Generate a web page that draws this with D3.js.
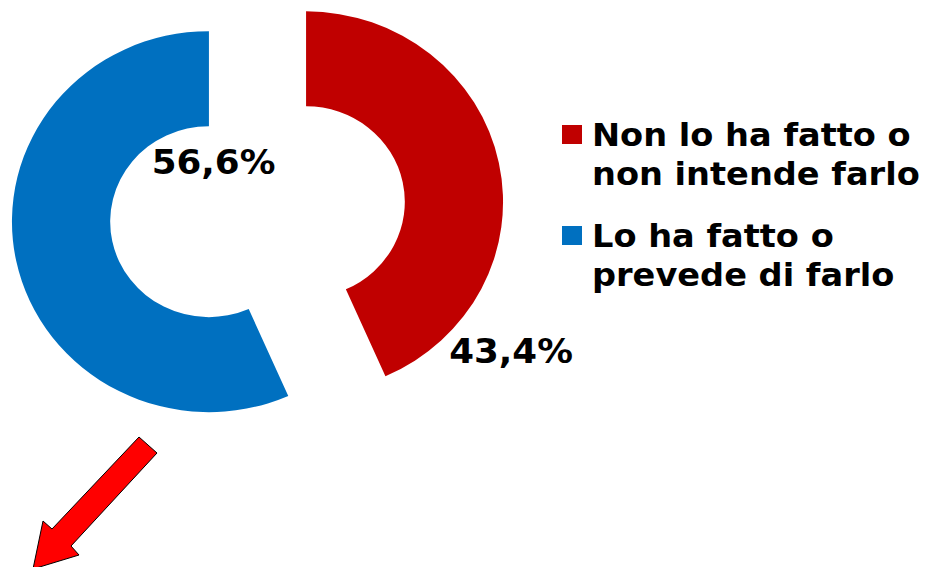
<!DOCTYPE html>
<html>
<head>
<meta charset="utf-8">
<script src="https://cdn.jsdelivr.net/npm/d3@7"></script>
<style>
  html, body { margin: 0; padding: 0; background: #fff; }
  svg { display: block; }
  text { font-family: "DejaVu Sans", Verdana, sans-serif; font-weight: bold; fill: #000; }
</style>
</head>
<body>
<svg id="chart" width="928" height="567"></svg>
<script>
const categories = ["Non lo ha fatto o non intende farlo", "Lo ha fatto o prevede di farlo"];
const legendLines = [["Non lo ha fatto o", "non intende farlo"], ["Lo ha fatto o", "prevede di farlo"]];
const values = [43.4, 56.6];
const valueLabels = ["43,4%", "56,6%"];
const colors = ["#C00000", "#0070C0"];

const svg = d3.select("#chart");
const W = 928, H = 567;
svg.append("rect").attr("width", W).attr("height", H).attr("fill", "#fff");

// the original picture is slightly stretched horizontally
const cx = 257.5, cy = 211.75, sx = 1.034;
const outerR = 190.5, innerR = 95.5, explode = 48;

const pie = d3.pie().sort(null).value(d => d).startAngle(0).endAngle(2 * Math.PI);
const arcs = pie(values);
const arc = d3.arc().innerRadius(innerR).outerRadius(outerR);

const g = svg.append("g").attr("transform", `translate(${cx},${cy}) scale(${sx},1)`);
g.selectAll("path.slice").data(arcs).enter().append("path")
  .attr("class", "slice")
  .attr("d", arc)
  .attr("fill", (d, i) => colors[i])
  .attr("transform", d => {
    const a = (d.startAngle + d.endAngle) / 2;
    return `translate(${explode * Math.sin(a)},${-explode * Math.cos(a)})`;
  });

// value labels
const labelOffsets = [
  { dx: 253.5, dy: 151 },   // red label: outside lower-right of the red slice
  { dx: -44, dy: -38 }      // blue label: inside the hole, near top
];
arcs.forEach((d, i) => {
  svg.append("text")
    .attr("transform", `translate(${cx + labelOffsets[i].dx},${cy + labelOffsets[i].dy}) scale(${sx},1)`)
    .attr("text-anchor", "middle")
    .attr("font-size", 34.5)
    .text(valueLabels[i]);
});

// legend
const lg = svg.append("g").attr("transform", "translate(562,125)");
categories.forEach((c, i) => {
  const item = lg.append("g").attr("transform", `translate(0,${i * 101})`);
  item.append("rect").attr("width", 20).attr("height", 19).attr("fill", colors[i]);
  item.selectAll("text").data(legendLines[i]).enter().append("text")
    .attr("transform", (d, j) => `translate(30,${21 + j * 39}) scale(${sx},1)`)
    .attr("font-size", 32.5)
    .text(d => d);
});

// red arrow annotation
const arrow = d3.path();
const pts = [[139,437],[157,453],[71,546],[79,555],[33,569],[43,521],[52,529]];
arrow.moveTo(...pts[0]);
pts.slice(1).forEach(p => arrow.lineTo(...p));
arrow.closePath();
svg.append("path").attr("d", arrow.toString())
  .attr("fill", "#FF0000").attr("stroke", "#000").attr("stroke-width", 1);
</script>
</body>
</html>
